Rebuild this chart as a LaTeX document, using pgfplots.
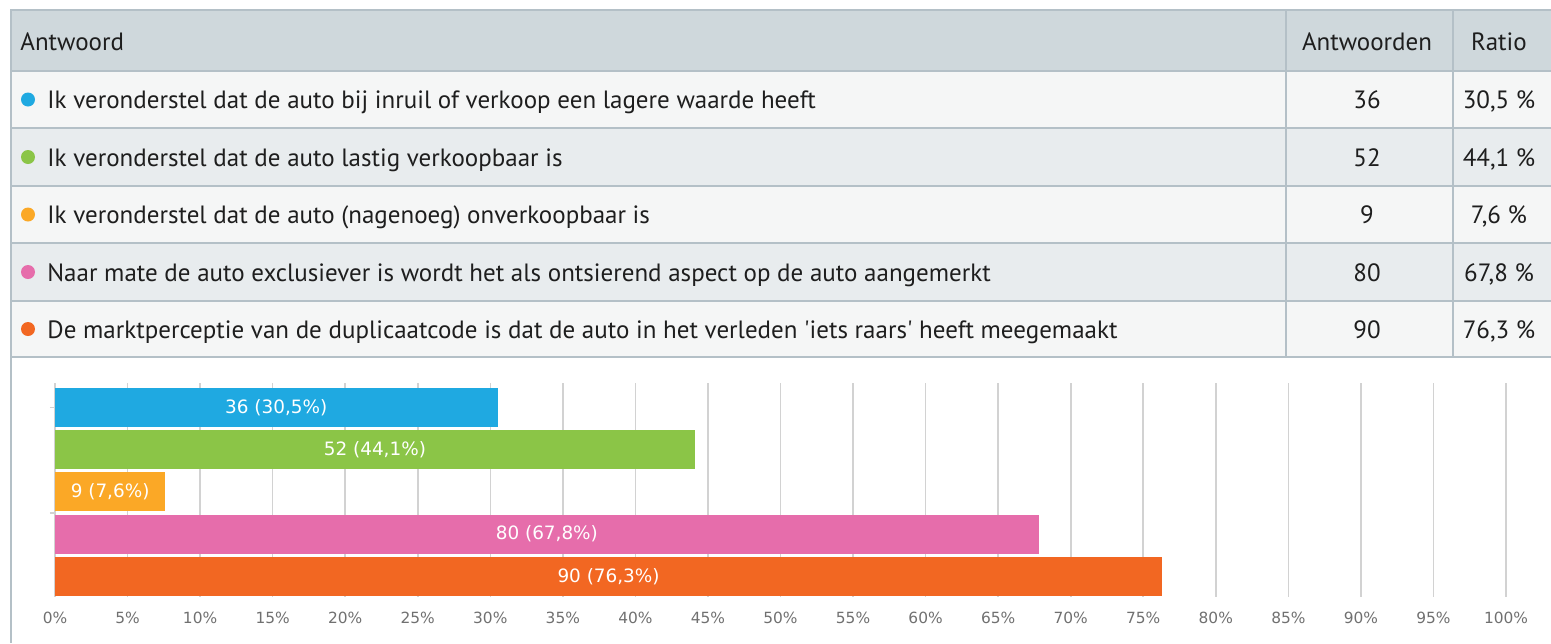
\documentclass[border=0pt]{standalone}
\usepackage{fontspec}
\setmainfont{PT Sans}
\newfontfamily\dejavu{DejaVu Sans}
\usepackage{pgfplots}
\pgfplotsset{compat=1.18}

\definecolor{hdrbg}{HTML}{CFD8DC}
\definecolor{rowa}{HTML}{F5F6F6}
\definecolor{rowb}{HTML}{E8ECEE}
\definecolor{rulec}{HTML}{B4C0C7}
\definecolor{ctext}{HTML}{1E1E1E}
\definecolor{ticktext}{HTML}{707070}
\definecolor{gridc}{HTML}{D2D2D2}
\definecolor{cblue}{HTML}{1FA9E1}
\definecolor{cgreen}{HTML}{8BC547}
\definecolor{corange}{HTML}{FBA826}
\definecolor{cpink}{HTML}{E66DAB}
\definecolor{cred}{HTML}{F26722}

\pgfplotsset{onebar/.style={fill=#1, draw=none, bar shift=0pt}}

\begin{document}
\begin{tikzpicture}
\path[use as bounding box] (0,0) rectangle (775.5pt,-321.5pt);

% table drawn in pixel units of the reference
\begin{scope}[x=0.5pt,y=-0.5pt, font=\fontsize{12.5}{15}\selectfont, text=ctext]
  \fill[hdrbg] (11,10) rectangle (1551,71);
  \fill[rowa] (11,71) rectangle (1551,128);
  \fill[rowb] (11,128) rectangle (1551,186);
  \fill[rowa] (11,186) rectangle (1551,243);
  \fill[rowb] (11,243) rectangle (1551,301);
  \fill[rowa] (11,301) rectangle (1551,357);
  \foreach \yy in {71,128,186,243,301,357}
    \draw[rulec, line width=1pt] (11,\yy) -- (1551,\yy);
  \draw[rulec, line width=1pt] (1286,10) -- (1286,357) (1453,10) -- (1453,357);
  \draw[rulec, line width=1pt] (1551,10) -- (11,10) -- (11,643);

  \node[anchor=base west, inner sep=0] at (20,50) {Antwoord};
  \node[anchor=base, inner sep=0] at (1367,50) {Antwoorden};
  \node[anchor=base, inner sep=0] at (1499,50) {Ratio};

  \fill[cblue] (28,99.5) circle (7);
  \fill[cgreen] (28,157) circle (7);
  \fill[corange] (28,214.5) circle (7);
  \fill[cpink] (28,272) circle (7);
  \fill[cred] (28,329) circle (7);

  \node[anchor=base west, inner sep=0] at (47,108.5) {Ik veronderstel dat de auto bij inruil of verkoop een lagere waarde heeft};
  \node[anchor=base west, inner sep=0] at (47,166) {Ik veronderstel dat de auto lastig verkoopbaar is};
  \node[anchor=base west, inner sep=0] at (47,223.5) {Ik veronderstel dat de auto (nagenoeg) onverkoopbaar is};
  \node[anchor=base west, inner sep=0] at (47,281) {Naar mate de auto exclusiever is wordt het als ontsierend aspect op de auto aangemerkt};
  \node[anchor=base west, inner sep=0] at (47,338) {De marktperceptie van de duplicaatcode is dat de auto in het verleden \textquotesingle iets raars\textquotesingle{} heeft meegemaakt};

  \node[anchor=base, inner sep=0] at (1367,108.5) {36};
  \node[anchor=base, inner sep=0] at (1367,166) {52};
  \node[anchor=base, inner sep=0] at (1367,223.5) {9};
  \node[anchor=base, inner sep=0] at (1367,281) {80};
  \node[anchor=base, inner sep=0] at (1367,338) {90};
  \node[anchor=base, inner sep=0] at (1499,108.5) {30,5 \%};
  \node[anchor=base, inner sep=0] at (1499,166) {44,1 \%};
  \node[anchor=base, inner sep=0] at (1499,223.5) {7,6 \%};
  \node[anchor=base, inner sep=0] at (1499,281) {67,8 \%};
  \node[anchor=base, inner sep=0] at (1499,338) {76,3 \%};
\end{scope}

\begin{axis}[
    at={(27.5pt,-298.5pt)}, anchor=south west,
    scale only axis, width=725.5pt, height=107pt,
    xbar, bar width=19.5pt,
    xmin=0, xmax=100, ymin=-0.58, ymax=4.49, y dir=reverse,
    xtick={0,5,...,100},
    xticklabel={\pgfmathprintnumber{\tick}\%},
    /pgf/number format/assume math mode=true,
    xticklabel style={font=\dejavu\fontsize{7.7}{9}\selectfont, text=ticktext, anchor=center, yshift=-8pt},
    xmajorgrids, major x grid style={gridc, line width=0.8pt},
    ytick={0,2.5}, yticklabels={}, ytick pos=left,
    tick align=outside, major tick length=2.5pt,
    x tick style={draw=none}, y tick style={gridc, line width=0.6pt},
    axis line style={draw=none},
    point meta=explicit symbolic,
    nodes near coords={\pgfplotspointmeta},
    visualization depends on={rawx \as \rawx},
    every node near coord/.append style={font=\dejavu\fontsize{9.2}{11}\selectfont, text=white, anchor=center, shift={(axis direction cs:-\rawx/2,0)}},
  ]
  \addplot[onebar=cblue] coordinates {(30.5,0) [36 (30,5\%)]};
  \addplot[onebar=cgreen] coordinates {(44.1,1) [52 (44,1\%)]};
  \addplot[onebar=corange] coordinates {(7.6,2) [9 (7,6\%)]};
  \addplot[onebar=cpink] coordinates {(67.8,3) [80 (67,8\%)]};
  \addplot[onebar=cred] coordinates {(76.3,4) [90 (76,3\%)]};
\end{axis}
\end{tikzpicture}
\end{document}
